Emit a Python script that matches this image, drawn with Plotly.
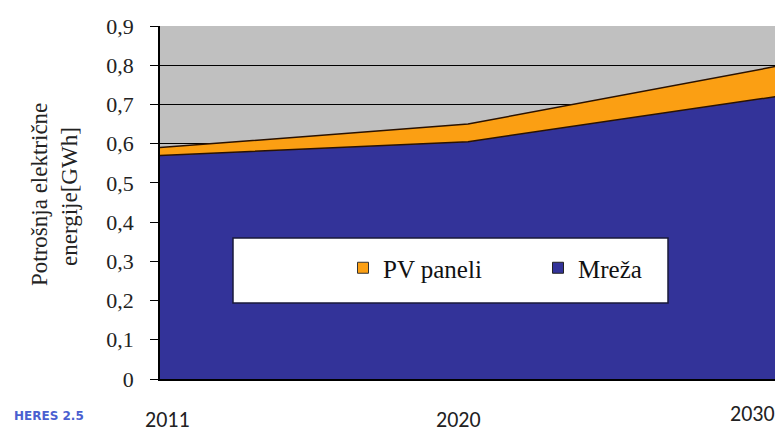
import plotly.graph_objects as go

years = ["2011", "2020", "2030"]
mreza = [0.57, 0.605, 0.72]
pv = [0.02, 0.045, 0.077]
y_ticks = [0, 0.1, 0.2, 0.3, 0.4, 0.5, 0.6, 0.7, 0.8, 0.9]
y_tick_text = ["0", "0,1", "0,2", "0,3", "0,4", "0,5", "0,6", "0,7", "0,8", "0,9"]

navy = "#333399"
orange = "#fb9f13"
edge = "#2a1200"

# page body adds an 8px margin; figure is sized to fit the window
OFF = 8
W, H = 783 - OFF, 432 - OFF
L, R, T, B = 160, 776, 26, 379  # plot area in window pixels
PW, PH = R - L, B - T


def px(x):
    return (x - L) / PW


def py(y):
    return (B - y) / PH


fig = go.Figure()
fig.add_trace(go.Scatter(x=years, y=mreza, stackgroup="s", mode="lines",
                         line=dict(color=edge, width=1.5), fillcolor=navy,
                         showlegend=False, hoverinfo="skip"))
fig.add_trace(go.Scatter(x=years, y=pv, stackgroup="s", mode="lines",
                         line=dict(color=edge, width=1.5), fillcolor=orange,
                         showlegend=False, hoverinfo="skip"))
# legend proxies
fig.add_trace(go.Scatter(x=[None], y=[None], mode="markers", name="PV paneli",
                         marker=dict(symbol="square", size=11, color=orange,
                                     line=dict(color="#333", width=1))))
fig.add_trace(go.Scatter(x=[None], y=[None], mode="markers", name="Mreža",
                         marker=dict(symbol="square", size=11, color=navy,
                                     line=dict(color="#222", width=1))))

# legend box
fig.add_shape(type="rect", xref="paper", yref="paper",
              x0=px(233), x1=px(668), y0=py(303), y1=py(238),
              fillcolor="white", line=dict(color="#1a1a3a", width=1.5), layer="above")

annotations = []
label_pos = [(167, 419, "center"), (458, 419, "center"), (777, 413, "right")]
for yr, (lx, ly, anc) in zip(years, label_pos):
    annotations.append(dict(text=yr, xref="paper", yref="paper",
                            x=px(lx), y=py(ly),
                            showarrow=False, xanchor=anc, yanchor="middle",
                            font=dict(family="Carlito, Liberation Sans, sans-serif", size=22, color="#222")))
annotations.append(dict(text="<b>HERES 2.5</b>", xref="paper", yref="paper",
                        x=px(12), y=py(416), showarrow=False,
                        xanchor="left", yanchor="middle",
                        font=dict(family="DejaVu Sans", size=12, color="#4a5fd0")))
annotations.append(dict(text="Potrošnja električne", xref="paper", yref="paper",
                        x=px(39), y=py(195), showarrow=False, textangle=-90,
                        xanchor="center", yanchor="middle",
                        font=dict(family="Liberation Serif, serif", size=23, color="#222")))
annotations.append(dict(text="energije[GWh]", xref="paper", yref="paper",
                        x=px(69), y=py(197), showarrow=False, textangle=-90,
                        xanchor="center", yanchor="middle",
                        font=dict(family="Liberation Serif, serif", size=23, color="#222")))

fig.update_layout(
    width=W, height=H,
    margin=dict(l=L - OFF, r=783 - R, t=T - OFF, b=432 - B, autoexpand=False),
    paper_bgcolor="white", plot_bgcolor="#c0c0c0",
    font=dict(family="Liberation Serif, Times New Roman, serif", color="#222"),
    showlegend=True,
    legend=dict(orientation="h", x=px(343), y=py(268), traceorder="normal",
                xanchor="left", yanchor="middle", bgcolor="rgba(0,0,0,0)",
                font=dict(family="Liberation Serif, serif", size=25, color="#111"),
                itemwidth=30, entrywidth=150),
    annotations=annotations,
    xaxis=dict(type="category", range=[0, 2], showticklabels=False, showgrid=False,
               automargin=False,
               zeroline=False, showline=True, linecolor="black", linewidth=1.5, ticks=""),
    yaxis=dict(range=[0, 0.9], tickvals=y_ticks, ticktext=y_tick_text, automargin=False,
               showgrid=True, gridcolor="black", gridwidth=1, zeroline=False,
               showline=True, linecolor="black", linewidth=1.5,
               ticks="outside", ticklen=8, tickcolor="black", ticklabelstandoff=12,
               tickfont=dict(family="Liberation Serif, serif", size=22, color="#222")),
)

fig.write_html("out.html")
